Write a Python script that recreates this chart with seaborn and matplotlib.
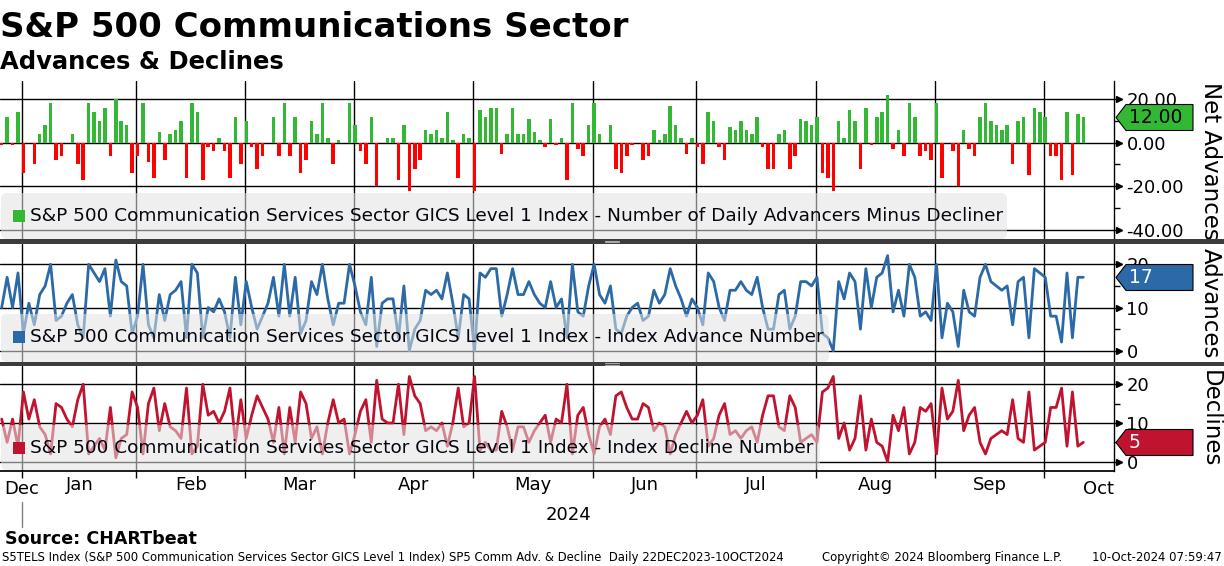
import numpy as np
import pandas as pd
import matplotlib
matplotlib.use("Agg")
import matplotlib.pyplot as plt
from matplotlib.patches import FancyBboxPatch, Polygon, Rectangle
from matplotlib.ticker import FormatStrFormatter, FixedLocator, NullFormatter
from matplotlib.transforms import blended_transform_factory
import seaborn as sns

# NYSE trading days, 26-Dec-2023 .. 10-Oct-2024
holidays = ["2024-01-01", "2024-01-15", "2024-02-19", "2024-03-29", "2024-05-27",
            "2024-06-19", "2024-07-04", "2024-09-02"]
dates = pd.bdate_range("2023-12-26", "2024-10-10", freq="C", holidays=holidays)

# net advances (advancers minus decliners), read month by month
net_adv = (
    [-1, 12, -1, 14]
    + [-14, 0, -10, 4, 8, 18, -8, -6, 0, 4, -10, -17, 18, 14, 10, 16, -6, 20, 10, 8, -14]
    + [-6, 18, -9, -16, 5, -8, 4, 6, 10, -16, 18, 14, -17, -2, -4, 2, -4, -16, 12, -10]
    + [10, -2, -12, -6, 0, 12, -6, 18, -6, 12, -14, -8, 10, 4, 18, 2, -10, 1, 0, 18]
    + [8, -4, -10, 12, -20, 0, 2, 2, -17, 8, -22, -12, -8, 6, 4, 6, 2, 14, 1, -16, 4, 2]
    + [-22, 15, 12, 16, 16, -5, 4, 16, 4, 4, 11, 5, 1, -2, 11, -1, 2, -17, 18, -3, -6, 8]
    + [18, 4, 0, 8, -12, -14, -6, -1, 0, -8, -6, 6, 1, 4, 17, 8, 2, -5, 2]
    + [-2, -10, 14, 10, -2, -8, 7, 6, 10, 6, 4, 12, -2, -12, -12, 4, 6, -12, -6, 11, 10, 8]
    + [12, -14, -16, -22, 10, 2, 15, 10, -12, 16, -1, 12, 14, 22, -3, 6, -6, 18, 12, -6, -4, -8]
    + [18, -16, 0, -4, -20, 6, -3, -6, 12, 18, 10, 8, 6, 8, -10, 10, 12, -15, 16, 14]
    + [12, -6, -6, -17, 14, -15, 13, 12]
)

advances = (
    [10, 17, 10, 18]
    + [4, 11, 6, 13, 15, 20, 7, 8, 11, 13, 6, 3, 20, 18, 16, 19, 8, 21, 16, 15, 4]
    + [8, 20, 6, 3, 13, 7, 13, 14, 16, 3, 20, 18, 3, 10, 9, 12, 9, 3, 17, 6]
    + [16, 10, 5, 8, 11, 17, 8, 20, 8, 17, 4, 7, 16, 13, 20, 12, 6, 11, 11, 20]
    + [15, 9, 6, 17, 1, 11, 12, 12, 3, 15, 0, 5, 7, 14, 13, 14, 12, 18, 11, 3, 13, 12]
    + [0, 18, 17, 19, 19, 8, 13, 19, 13, 13, 16, 13, 11, 10, 16, 10, 12, 3, 20, 9, 8, 15]
    + [20, 13, 11, 15, 5, 4, 8, 10, 11, 7, 8, 14, 11, 13, 19, 15, 12, 8, 12]
    + [10, 6, 18, 16, 10, 7, 14, 14, 16, 14, 13, 17, 10, 5, 5, 13, 14, 5, 8, 16, 16, 15]
    + [17, 4, 3, 0, 16, 12, 18, 16, 5, 19, 10, 17, 18, 22, 9, 14, 8, 20, 17, 8, 9, 7]
    + [20, 3, 11, 9, 1, 14, 9, 8, 17, 20, 16, 15, 14, 15, 6, 16, 17, 3, 19, 18]
    + [17, 8, 8, 2, 18, 3, 17, 17]
)

declines = (
    [11, 5, 11, 4]
    + [18, 11, 16, 9, 7, 2, 15, 14, 11, 9, 16, 20, 2, 4, 6, 3, 14, 1, 6, 7, 18]
    + [14, 2, 15, 19, 8, 15, 9, 8, 6, 19, 2, 4, 20, 12, 13, 10, 13, 19, 5, 16]
    + [6, 12, 17, 14, 11, 5, 14, 2, 14, 5, 18, 15, 6, 9, 2, 10, 16, 10, 11, 2]
    + [7, 13, 16, 5, 21, 11, 10, 10, 20, 7, 22, 17, 15, 8, 9, 8, 10, 4, 10, 19, 9, 10]
    + [22, 3, 5, 3, 3, 13, 9, 3, 9, 9, 5, 8, 10, 12, 5, 11, 10, 20, 2, 12, 14, 7]
    + [2, 9, 11, 7, 17, 18, 14, 11, 11, 15, 14, 8, 10, 9, 2, 7, 10, 13, 10]
    + [12, 16, 4, 6, 12, 15, 7, 8, 6, 8, 9, 5, 12, 17, 17, 9, 8, 17, 14, 5, 6, 7]
    + [5, 18, 19, 22, 6, 10, 3, 6, 17, 3, 11, 5, 4, 0, 12, 8, 14, 2, 5, 14, 13, 15]
    + [2, 19, 11, 13, 21, 8, 12, 14, 5, 2, 6, 7, 8, 7, 16, 6, 5, 18, 3, 4]
    + [5, 14, 14, 19, 4, 18, 4, 5]
)

legend_net = "S&P 500 Communication Services Sector GICS Level 1 Index - Number of Daily Advancers Minus Decliner"
legend_adv = "S&P 500 Communication Services Sector GICS Level 1 Index - Index Advance Number"
legend_dec = "S&P 500 Communication Services Sector GICS Level 1 Index - Index Decline Number"
month_names = ["Jan", "Feb", "Mar", "Apr", "May", "Jun", "Jul", "Aug", "Sep"]

df = pd.DataFrame({"date": dates, "net": net_adv, "adv": advances, "dec": declines})
df["i"] = np.arange(len(df))
df["dir"] = np.where(df["net"] >= 0, "up", "down")

GREEN = "#33b833"
RED_BAR = "#ff0000"
BLUE = "#2b6aa6"
CRIMSON = "#c0132f"

sns.set_theme(style="white")
plt.rcParams["font.family"] = ["DejaVu Sans"]
plt.rcParams["axes.unicode_minus"] = False
plt.rcParams["text.color"] = "black"

W, H = 1224, 566
fig = plt.figure(figsize=(W / 100, H / 100), dpi=100)


def fx(px):
    return px / W


def fy(py):
    return 1 - py / H


AX_R = 1114
panels = [(81, 239), (244, 362), (366, 471)]
axes = [fig.add_axes([0, fy(b), fx(AX_R), (b - t) / H]) for t, b in panels]
ax1, ax2, ax3 = axes

sns.barplot(data=df, x="i", y="net", hue="dir", palette={"up": GREEN, "down": RED_BAR},
            dodge=False, native_scale=True, width=0.65, errorbar=None, legend=False,
            saturation=1, linewidth=0, ax=ax1, zorder=3)
sns.lineplot(data=df, x="i", y="adv", color=BLUE, linewidth=2.0, ax=ax2, zorder=3)
sns.lineplot(data=df, x="i", y="dec", color=CRIMSON, linewidth=2.0, ax=ax3, zorder=3)

# month boundaries (first trading day of each month)
first_days = df.groupby(df["date"].dt.to_period("M"))["i"].min().values[1:]
bounds = first_days - 0.2
xmin, xmax = -0.31, 204.65
centers = (bounds[:-1] + bounds[1:]) / 2

ylims = [(-44.2, 28.3), (-2.6, 24.7), (-2.4, 24.7)]
majors = [[-40, -20, 0, 20], [0, 10, 20], [0, 10, 20]]
minors = [[-30, -10, 10], [5, 15], [5, 15]]

for ax, lim, mj, mn in zip(axes, ylims, majors, minors):
    ax.set_xlim(xmin, xmax)
    ax.set_ylim(*lim)
    ax.set_xlabel("")
    ax.set_ylabel("")
    ax.yaxis.tick_right()
    ax.yaxis.set_major_locator(FixedLocator(mj))
    ax.yaxis.set_minor_locator(FixedLocator(mn))
    ax.tick_params(axis="y", which="major", length=6, width=1, color="black",
                   labelsize=13, labelcolor="black", pad=3)
    ax.tick_params(axis="y", which="minor", length=4, width=1, color="black")
    for y in mj:
        ax.axhline(y, color="black", lw=1, zorder=1)
    for b in bounds:
        ax.axvline(b, color="black", lw=1, zorder=1)
    for s in ["top", "left", "bottom"]:
        ax.spines[s].set_visible(False)
    ax.spines["right"].set_color("black")
    ax.spines["right"].set_linewidth(1)
    ax.plot(np.full(len(mj), 1 + 5 / AX_R), mj, ls="none", marker=">", ms=5,
            color="black", transform=ax.get_yaxis_transform(), clip_on=False)
    ax.set_facecolor("white")

ax1.yaxis.set_major_formatter(FormatStrFormatter("%.2f"))

for ax in (ax1, ax2):
    ax.set_xticks([])

ax3.spines["bottom"].set_visible(True)
ax3.spines["bottom"].set_color("black")
ax3.set_xticks(bounds)
ax3.xaxis.set_major_formatter(NullFormatter())
ax3.set_xticks(centers, month_names, minor=True)
ax3.tick_params(axis="x", which="major", length=5, width=1, color="black", bottom=True)
ax3.tick_params(axis="x", which="minor", length=0, labelsize=13, labelcolor="black", pad=3.5)
ax3.text(0.004, -0.09, "Dec", transform=ax3.transAxes, ha="left", va="top", fontsize=13)
ax3.text(1.0, -0.09, "Oct", transform=ax3.transAxes, ha="right", va="top", fontsize=13)
ax3.text((bounds[0] + xmax) / 2, fy(520), "2024", ha="center", va="baseline", fontsize=13,
         transform=blended_transform_factory(ax3.transData, fig.transFigure))
ax3.plot([bounds[0], bounds[0]], [fy(502), fy(527)], color="#808080", lw=1, clip_on=False,
         transform=blended_transform_factory(ax3.transData, fig.transFigure))

# legend boxes drawn over the data, semi-transparent
inch = fig.dpi_scale_trans
legends = [(193, 239, 1007, GREEN, legend_net),
           (314, 362, 829, BLUE, legend_adv),
           (425, 470, 820, CRIMSON, legend_dec)]
for top, bot, right, col, label in legends:
    fig.add_artist(FancyBboxPatch((1 / 100, (H - bot) / 100), (right - 1) / 100, (bot - top) / 100,
                                  boxstyle="round,pad=0,rounding_size=0.06", transform=inch,
                                  facecolor="#e3e3e3", edgecolor="none", alpha=0.55, zorder=5))
    yc = (top + 23) if bot - top > 40 else (top + bot) / 2
    fig.add_artist(Rectangle((13 / 100, (H - yc - 6) / 100), 12 / 100, 12 / 100,
                             transform=inch, facecolor=col, edgecolor="none", zorder=6))
    fig.text(fx(30), fy(yc), label, fontsize=13.3, va="center", ha="left", color="#05050f", zorder=6)

# separators between panels
for top, bot in [(239, 244), (362, 366)]:
    fig.add_artist(Rectangle((0, fy(bot)), 1, (bot - top) / H, transform=fig.transFigure,
                             facecolor="#3c3c3c", edgecolor="none", zorder=10))
    mid = (top + bot) / 2
    for dy in (-0.8, 0.8):
        fig.add_artist(plt.Line2D([fx(605), fx(619)], [fy(mid + dy), fy(mid + dy)],
                                  color="#a8a8a8", lw=0.8, zorder=11))


# last-value tags
def tag(yc, text, face, tcol):
    pts = [(fx(1116), fy(yc)), (fx(1126), fy(yc - 13)), (fx(1193), fy(yc - 13)),
           (fx(1193), fy(yc + 13)), (fx(1126), fy(yc + 13))]
    fig.add_artist(Polygon(pts, closed=True, transform=fig.transFigure, facecolor=face,
                           edgecolor="black", lw=0.8, zorder=12))
    fig.text(fx(1129), fy(yc), text, fontsize=13.5, color=tcol, va="center", ha="left", zorder=13)


tag(117.5, "12.00", GREEN, "black")
tag(277.5, "17", BLUE, "white")
tag(442.5, "5", CRIMSON, "white")

# right axis titles
for yc, text in [(161, "Net Advances"), (303, "Advances"), (419, "Declines")]:
    fig.text(fx(1210), fy(yc), text, rotation=270, ha="center", va="center", fontsize=16.5)

fig.text(0, fy(37), "S&P 500 Communications Sector", fontsize=24.5, weight="bold", va="baseline")
fig.text(0, fy(69), "Advances & Declines", fontsize=17.5, weight="bold", va="baseline")
fig.text(fx(5), fy(544), "Source: CHARTbeat", fontsize=12.6, weight="bold", va="baseline")

foot = 561
fig.text(fx(2), fy(foot), "S5TELS Index (S&P 500 Communication Services Sector GICS Level 1 Index) "
         "SP5 Comm Adv. & Decline  Daily 22DEC2023-10OCT2024", fontsize=8.4, va="baseline")
fig.text(fx(822), fy(foot), "Copyright\u00a9 2024 Bloomberg Finance L.P.", fontsize=8.4, va="baseline")
fig.text(fx(1222), fy(foot), "10-Oct-2024 07:59:47", fontsize=8.4, va="baseline", ha="right")

fig.savefig("out.png", dpi=100, facecolor="white")
